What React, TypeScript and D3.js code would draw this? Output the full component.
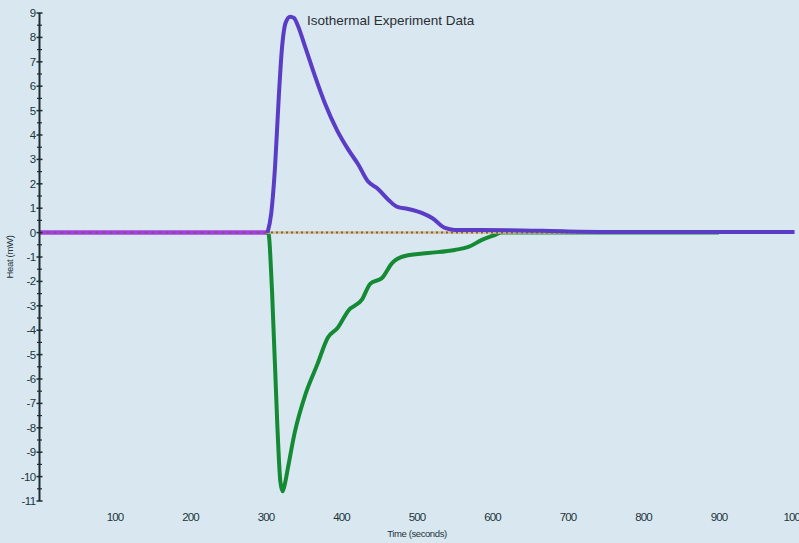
import React from "react";
import * as d3 from "d3";

const W = 799;
const H = 543;

const yTicks = [9, 8, 7, 6, 5, 4, 3, 2, 1, 0, -1, -2, -3, -4, -5, -6, -7, -8, -9, -10, -11];
const xTicks = [100, 200, 300, 400, 500, 600, 700, 800, 900, 1000];

// Sample (exothermic) curve, purple
const sampleTime = [302, 307, 312, 317, 321, 326, 332, 337, 342, 352, 365, 378, 394, 409, 422, 435, 448, 462, 474, 488, 507, 520, 537, 550, 620, 700, 800, 1000];
const sampleHeat = [0, 0.8, 2.7, 5.6, 7.5, 8.6, 8.85, 8.8, 8.5, 7.6, 6.4, 5.3, 4.2, 3.4, 2.8, 2.1, 1.8, 1.35, 1.05, 0.97, 0.8, 0.6, 0.19, 0.11, 0.1, 0.05, 0.02, 0.02];

// Reference (endothermic) curve, green
const refTime = [300, 303, 308, 315, 319, 322, 325, 329, 338, 352, 368, 382, 395, 409, 427, 438, 454, 467, 484, 515, 550, 568, 586, 603, 612, 900];
const refHeat = [0, 0, -2.4, -7.9, -10.2, -10.6, -10.3, -9.65, -8.2, -6.65, -5.4, -4.3, -3.9, -3.2, -2.75, -2.1, -1.85, -1.25, -0.96, -0.84, -0.71, -0.59, -0.3, -0.1, 0, 0];

// Baselines
const preTime = [0, 302];
const preHeat = [0, 0];
const baseTime = [300, 1000];
const baseHeat = [0, 0];

export default function App() {
  const x = d3.scaleLinear().domain([0, 1000]).range([39.5, 794.5]);
  const y = d3.scaleLinear().domain([9, -11]).range([13, 501]);
  const line = d3
    .line<[number, number]>()
    .x((d) => x(d[0]))
    .y((d) => y(d[1]))
    .curve(d3.curveMonotoneX);
  const zip = (a: number[], b: number[]) => a.map((t, i) => [t, b[i]] as [number, number]);

  const minor = d3.range(-10.5, 9, 1);
  const font = "'Liberation Sans', Arial, sans-serif";
  const txt = "#22343b";

  return (
    <svg width={W} height={H} style={{ position: "absolute", left: 0, top: 0, display: "block" }}>
      <rect x={0} y={0} width={W} height={H} fill="#d9e8f0" />
      <text x={307} y={25} fontFamily={font} fontSize={13.5} fill="#2a2e33">
        Isothermal Experiment Data
      </text>

      {/* baseline before injection */}
      <path d={line(zip(preTime, preHeat)) || ""} stroke="#a83ee0" strokeWidth={4.5} fill="none" />
      <path d={line(zip(preTime, preHeat)) || ""} stroke="#7a5090" strokeWidth={2} strokeDasharray="3,4" fill="none" />

      {/* green reference curve */}
      <path d={line(zip(refTime, refHeat)) || ""} stroke="#148a35" strokeWidth={4} fill="none" strokeLinejoin="round" />

      {/* dotted baseline */}
      <path d={line(zip(baseTime, baseHeat)) || ""} stroke="#e0b88a" strokeWidth={2.5} fill="none" />
      <path d={line(zip(baseTime, baseHeat)) || ""} stroke="#6a6a55" strokeWidth={2} strokeDasharray="2,3" fill="none" />

      {/* purple sample curve */}
      <path d={line(zip(sampleTime, sampleHeat)) || ""} stroke="#5a3cc6" strokeWidth={4} fill="none" strokeLinejoin="round" />

      {/* y axis */}
      <line x1={x(0)} x2={x(0)} y1={y(9)} y2={y(-11)} stroke="#1e2c33" strokeWidth={2} />
      {yTicks.map((t) => (
        <g key={t}>
          <line x1={x(0) - 3} x2={x(0) + 3} y1={y(t)} y2={y(t)} stroke="#1e2c33" strokeWidth={1.5} />
          <text
            x={x(0) - 4}
            y={y(t)}
            dy="0.35em"
            textAnchor="end"
            fontFamily={font}
            fontSize={11.5}
            letterSpacing={-0.6}
            fill={txt}
          >
            {t}
          </text>
        </g>
      ))}
      {minor.map((t) => (
        <line key={t} x1={x(0) - 2.5} x2={x(0) + 2.5} y1={y(t)} y2={y(t)} stroke="#1e2c33" strokeWidth={1.2} />
      ))}

      {/* x labels */}
      {xTicks.map((t) => (
        <text
          key={t}
          x={x(t)}
          y={517}
          dy="0.35em"
          textAnchor="middle"
          fontFamily={font}
          fontSize={11.5}
          letterSpacing={-0.9}
          fill={txt}
        >
          {t}
        </text>
      ))}
      <text x={417} y={534} dy="0.35em" textAnchor="middle" fontFamily={font} fontSize={9.5} letterSpacing={-0.4} fill={txt}>
        Time (seconds)
      </text>
      <text
        transform={`translate(10,257) rotate(-90)`}
        dy="0.35em"
        textAnchor="middle"
        fontFamily={font}
        fontSize={9.5}
        letterSpacing={-0.3}
        fill={txt}
      >
        Heat (mW)
      </text>
    </svg>
  );
}
